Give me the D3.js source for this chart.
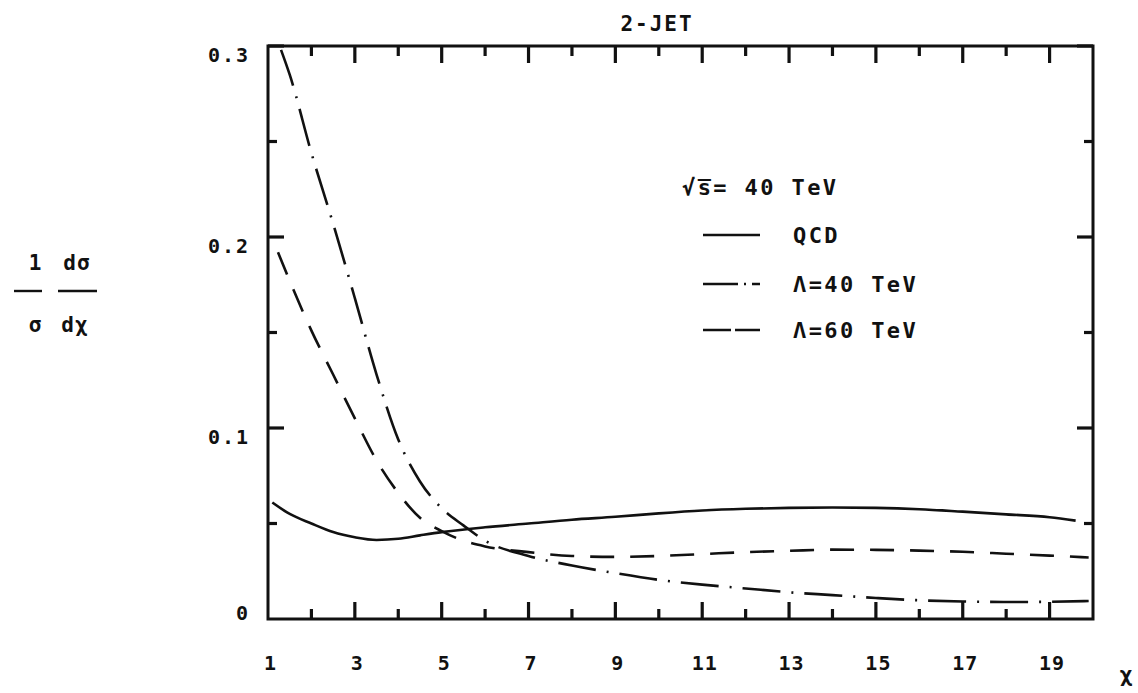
<!DOCTYPE html>
<html>
<head>
<meta charset="utf-8">
<script src="https://cdn.jsdelivr.net/npm/d3@7"></script>
<style>
  body { margin: 0; background: #fff; }
  svg { display: block; }
  text { font-family: "DejaVu Sans Mono", monospace; font-weight: bold; fill: #111; }
  .axis path { display: none; }
  .axis line { display: none; }
  .tick-mark { stroke: #111; stroke-width: 3.2; }
  .curve { fill: none; stroke: #111; stroke-width: 2.6; }
</style>
</head>
<body>
<svg width="1138" height="693"></svg>
<script>
var width = 1138;
var height = 693;

// chi values and 1/sigma dsigma/dchi
var qcdX   = [1.1, 1.5, 2, 2.5, 3, 3.5, 4, 4.5, 5, 6, 7, 8, 9, 10, 11, 12, 13, 14, 15, 16, 17, 18, 19, 19.6];
var qcdY   = [0.061, 0.055, 0.050, 0.0455, 0.0428, 0.0414, 0.042, 0.0438, 0.0455, 0.048, 0.050, 0.052, 0.0535, 0.0553, 0.0568, 0.0577, 0.0582, 0.0584, 0.0582, 0.0575, 0.0562, 0.0548, 0.0533, 0.0515];

var lam40X = [1.3, 1.5, 2, 2.5, 3, 3.5, 4, 4.5, 5, 5.5, 6, 7, 8, 9, 10, 11, 12, 13, 14, 15, 16, 17, 18, 19, 19.9];
var lam40Y = [0.298, 0.285, 0.244, 0.207, 0.168, 0.128, 0.094, 0.072, 0.058, 0.049, 0.041, 0.033, 0.028, 0.024, 0.0205, 0.018, 0.016, 0.014, 0.0125, 0.011, 0.0098, 0.0092, 0.0089, 0.009, 0.0094];

var lam60X = [1.23, 1.5, 2, 2.5, 3, 3.5, 4, 4.5, 5, 5.5, 6, 7, 8, 9, 10, 11, 12, 13, 14, 15, 16, 17, 18, 19, 19.9];
var lam60Y = [0.192, 0.177, 0.151, 0.128, 0.105, 0.083, 0.066, 0.053, 0.046, 0.041, 0.038, 0.035, 0.033, 0.0325, 0.033, 0.034, 0.035, 0.0357, 0.0363, 0.0362, 0.0358, 0.0352, 0.0342, 0.0332, 0.0322];

var xLabels = [1, 3, 5, 7, 9, 11, 13, 15, 17, 19];
var xMinor = [2, 4, 6, 8, 10, 12, 14, 16, 18];
var yLabels = [0, 0.1, 0.2, 0.3];
var yMinor = [0.05, 0.15, 0.25];

var legendLabels = ["QCD", "\u039B=40 TeV", "\u039B=60 TeV"];

var L = 268, R = 1093, T = 46, B = 619;

var x = d3.scaleLinear().domain([1, 20]).range([L, R]);
var y = d3.scaleLinear().domain([0, 0.3]).range([B, T]);

var svg = d3.select("svg");

function zip(xs, ys) { return xs.map(function(v, i) { return [v, ys[i]]; }); }

var line = d3.line()
    .x(d => x(d[0]))
    .y(d => y(d[1]))
    .curve(d3.curveMonotoneX);

// curves
svg.append("path").attr("class", "curve")
    .attr("d", line(zip(qcdX, qcdY)))
    .attr("stroke-width", 3);
svg.append("path").attr("class", "curve")
    .attr("d", line(zip(lam40X, lam40Y)))
    .attr("stroke-dasharray", "38,11,2,11");
svg.append("path").attr("class", "curve")
    .attr("d", line(zip(lam60X, lam60Y)))
    .attr("stroke-dasharray", "24,16");

// tick labels via d3 axes
svg.append("g").attr("class", "axis")
    .attr("transform", "translate(0," + B + ")")
    .call(d3.axisBottom(x).tickValues(xLabels).tickSize(0).tickPadding(37).tickFormat(d3.format("d")))
    .selectAll("text").attr("font-size", 20).attr("letter-spacing", 1).attr("dx", 2);

svg.append("g").attr("class", "axis")
    .attr("transform", "translate(" + L + ",0)")
    .call(d3.axisLeft(y).tickValues(yLabels).tickSize(0).tickPadding(18)
        .tickFormat(d => d === 0 ? "0" : d3.format(".1f")(d)))
    .selectAll("text").attr("font-size", 20).attr("letter-spacing", 2)
    .attr("dy", d => d === 0 ? "0.0em" : "0.75em");

// tick marks, pointing inward on all four sides
var ticks = svg.append("g");
function xTicks(vals, len) {
  ticks.selectAll(null).data(vals).join("line").attr("class", "tick-mark")
      .attr("x1", d => x(d)).attr("x2", d => x(d))
      .attr("y1", B).attr("y2", B - len);
  ticks.selectAll(null).data(vals).join("line").attr("class", "tick-mark")
      .attr("x1", d => x(d)).attr("x2", d => x(d))
      .attr("y1", T).attr("y2", T + len);
}
function yTicks(vals, len) {
  ticks.selectAll(null).data(vals).join("line").attr("class", "tick-mark")
      .attr("y1", d => y(d)).attr("y2", d => y(d))
      .attr("x1", L).attr("x2", L + len);
  ticks.selectAll(null).data(vals).join("line").attr("class", "tick-mark")
      .attr("y1", d => y(d)).attr("y2", d => y(d))
      .attr("x1", R).attr("x2", R - len);
}
xTicks(xLabels.slice(1), 17);
xTicks(xMinor, 10);
yTicks(yLabels.slice(1), 16);
yTicks(yMinor, 9);

// frame
svg.append("rect")
    .attr("x", L).attr("y", T)
    .attr("width", R - L).attr("height", B - T)
    .attr("fill", "none").attr("stroke", "#111").attr("stroke-width", 3);

// title
svg.append("text")
    .attr("x", 657).attr("y", 31)
    .attr("text-anchor", "middle")
    .attr("font-size", 21).attr("letter-spacing", 2)
    .text("2-JET");

// x axis label
svg.append("text")
    .attr("x", 1126).attr("y", 682)
    .attr("text-anchor", "middle")
    .attr("font-size", 22)
    .text("\u03C7");

// y axis label: 1/sigma dsigma/dchi
var yl = svg.append("g");
yl.append("text").attr("x", 35).attr("y", 270).attr("text-anchor", "middle")
    .attr("font-size", 21).text("1");
yl.append("text").attr("x", 77).attr("y", 270).attr("text-anchor", "middle")
    .attr("font-size", 21).attr("letter-spacing", 1).text("d\u03C3");
yl.append("line").attr("x1", 14).attr("x2", 42).attr("y1", 291).attr("y2", 291)
    .attr("stroke", "#111").attr("stroke-width", 2.4);
yl.append("line").attr("x1", 58).attr("x2", 97).attr("y1", 291).attr("y2", 291)
    .attr("stroke", "#111").attr("stroke-width", 2.4);
yl.append("text").attr("x", 35).attr("y", 332).attr("text-anchor", "middle")
    .attr("font-size", 21).text("\u03C3");
yl.append("text").attr("x", 75).attr("y", 332).attr("text-anchor", "middle")
    .attr("font-size", 21).attr("letter-spacing", 1).text("d\u03C7");

// legend
svg.append("text")
    .attr("x", 682).attr("y", 195)
    .attr("font-size", 22).attr("letter-spacing", 2.4)
    .text("\u221As\u0305= 40 TeV");

var legendDash = [null, "35,6,2,6,12", "28,4,25"];
var legendY = [235, 284, 330];
legendLabels.forEach(function(lab, i) {
  svg.append("line")
      .attr("x1", 703).attr("x2", 760)
      .attr("y1", legendY[i]).attr("y2", legendY[i])
      .attr("stroke", "#111").attr("stroke-width", 2.6)
      .attr("stroke-dasharray", legendDash[i]);
  svg.append("text")
      .attr("x", 793).attr("y", legendY[i] + 8)
      .attr("font-size", 22).attr("letter-spacing", 2.4)
      .text(lab);
});
</script>
</body>
</html>
